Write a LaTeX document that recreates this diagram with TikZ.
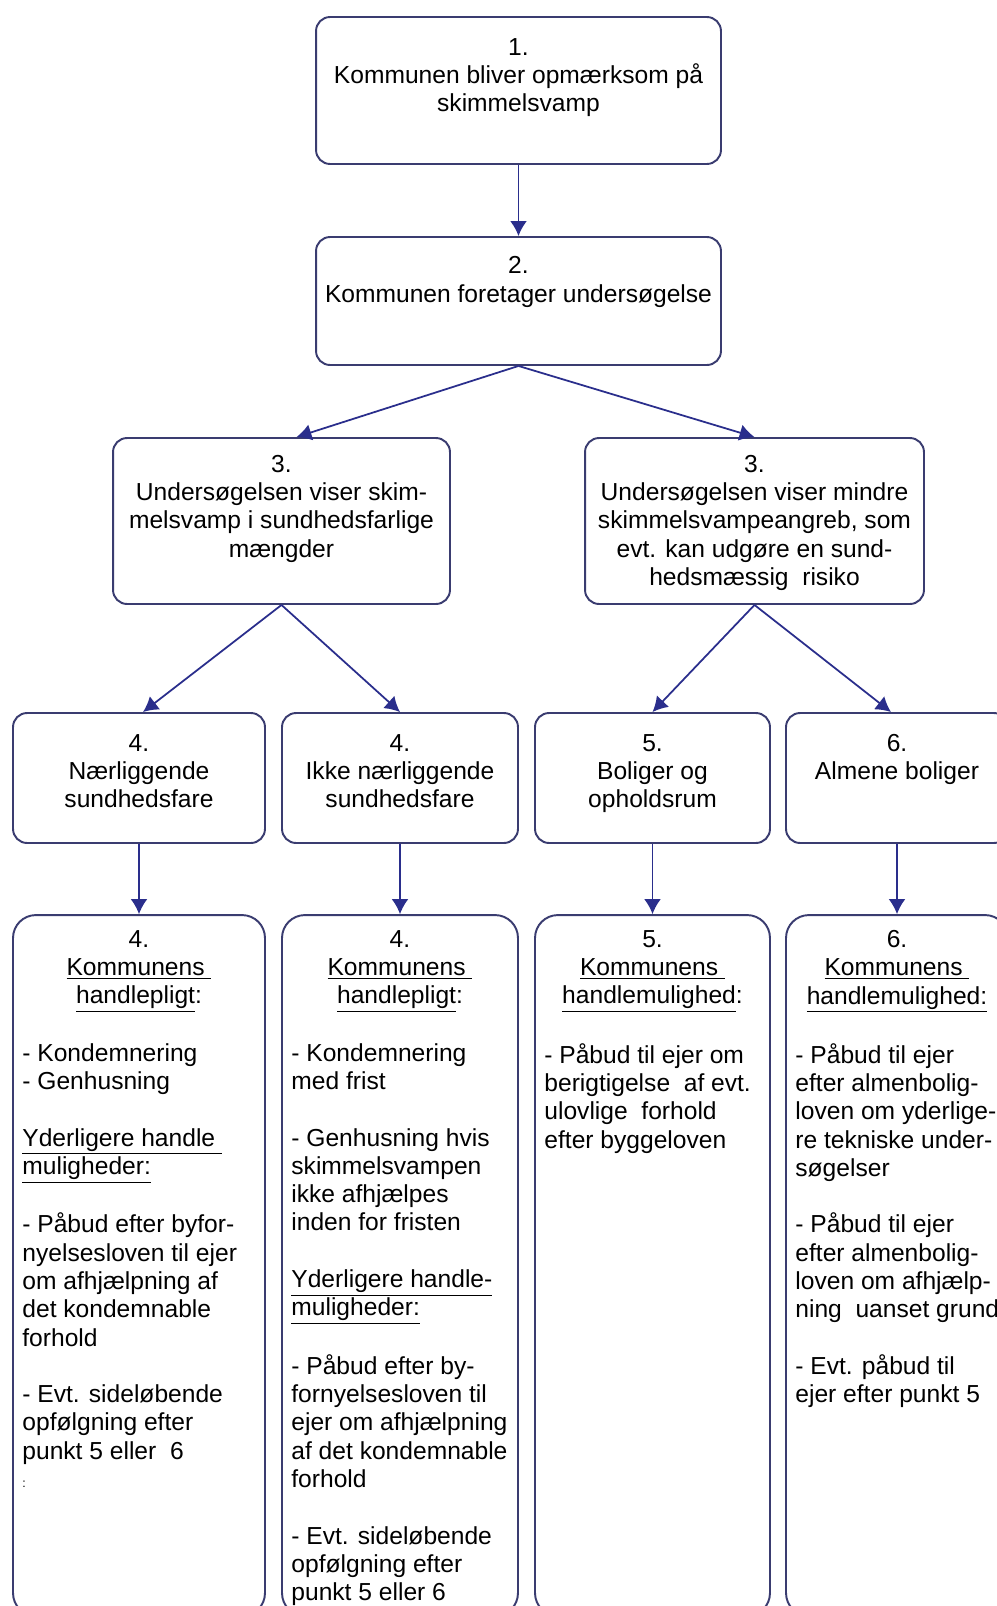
\documentclass[tikz,border=0pt]{standalone}
\usepackage{fontspec}
\setmainfont{Liberation Sans}
\usepackage{tikz}
\usetikzlibrary{positioning,arrows.meta}
\definecolor{boxblue}{RGB}{58,60,112}
\definecolor{arrowblue}{RGB}{42,46,140}
\newcommand{\uln}[1]{\underline{#1}}

\begin{document}
\begin{tikzpicture}[x=0.02cm,y=-0.02cm]
\tikzstyle{box}=[rectangle, rounded corners=8pt, draw=boxblue, line width=1.1pt, fill=white]
\tikzstyle{tall}=[box, rounded corners=13pt]
\tikzstyle{txt}=[anchor=north, align=center, inner sep=0pt, font=\fontsize{14}{16.1}\selectfont]
\tikzstyle{list}=[txt, anchor=north west, align=left]
\tikzstyle{connect}=[-{Latex[length=8.5pt,width=9.5pt]}, draw=arrowblue, line width=1pt]
\useasboundingbox[fill=white] (0,0) rectangle (997,1606);
\clip (0,0) rectangle (997,1606);
	\node[box, minimum width=8.1cm, minimum height=2.94cm] (b1) at (518.5,90.5) {};
	\node[box, minimum width=8.1cm, minimum height=2.56cm] (b2) at (518.5,301) {};
	\node[box, minimum width=6.74cm, minimum height=3.32cm] (b3l) at (281.5,521) {};
	\node[box, minimum width=6.78cm, minimum height=3.32cm] (b3r) at (754.5,521) {};
	\node[box, minimum width=5.04cm, minimum height=2.6cm] (b4a) at (139,778) {};
	\node[box, minimum width=4.72cm, minimum height=2.6cm] (b4b) at (400,778) {};
	\node[box, minimum width=4.7cm, minimum height=2.6cm] (b5) at (652.5,778) {};
	\node[box, minimum width=4.44cm, minimum height=2.6cm] (b6) at (897,778) {};
	\node[tall, minimum width=5.04cm, minimum height=14.02cm] (c4a) at (139,1265.5) {};
	\node[tall, minimum width=4.72cm, minimum height=14.02cm] (c4b) at (400,1265.5) {};
	\node[tall, minimum width=4.7cm, minimum height=14.02cm] (c5) at (652.5,1265.5) {};
	\node[tall, minimum width=4.44cm, minimum height=14.02cm] (c6) at (897,1265.5) {};

	\node[txt] (t1) at ([yshift=-12.5pt]b1.north) {1.\\Kommunen bliver opmærksom på\\skimmelsvamp};
	\node[txt] (t2) at ([yshift=-11.5pt]b2.north) {2.\\Kommunen foretager undersøgelse};
	\node[txt] (t3l) at ([yshift=-10pt]b3l.north) {3.\\Undersøgelsen viser skim-\\melsvamp i sundhedsfarlige\\mængder};
	\node[txt] (t3r) at ([yshift=-10pt]b3r.north) {3.\\Undersøgelsen viser mindre\\skimmelsvampeangreb, som\\evt. kan udgøre en sund-\\hedsmæssig\ \ risiko};
	\node[txt] (t4a) at ([yshift=-12.5pt]b4a.north) {4.\\Nærliggende\\sundhedsfare};
	\node[txt] (t4b) at ([yshift=-12.5pt]b4b.north) {4.\\Ikke nærliggende\\sundhedsfare};
	\node[txt] (t5) at ([yshift=-12.5pt]b5.north) {5.\\Boliger og\\opholdsrum};
	\node[txt] (t6) at ([yshift=-12.5pt]b6.north) {6.\\Almene boliger};

	% handlepligt / handlemulighed
	\node[txt] (h4a) at ([yshift=-9pt]c4a.north) {4.\\\uln{Kommunens\ }\\\uln{handlepligt}:};
	\node[list] (l4a) at ([xshift=0.2cm,yshift=-73.4pt]c4a.north west) {- Kondemnering\\- Genhusning\\[16.1pt]
		\uln{Yderligere handle\ }\\\uln{muligheder:}\\[16.1pt]
		- Påbud efter byfor-\\nyelsesloven til ejer\\om afhjælpning af\\det kondemnable\\forhold\\[16.1pt]
		- Evt. sideløbende\\opfølgning efter\\punkt 5 eller\ \ 6\\{\scriptsize :}};
	\node[txt] (h4b) at ([yshift=-9pt]c4b.north) {4.\\\uln{Kommunens\ }\\\uln{handlepligt}:};
	\node[list] (l4b) at ([xshift=0.2cm,yshift=-73.4pt]c4b.north west) {- Kondemnering\\med frist\\[16.1pt]
		- Genhusning hvis\\skimmelsvampen\\ikke afhjælpes\\inden for fristen\\[16.1pt]
		\uln{Yderligere handle-}\\\uln{muligheder:}\\[16.1pt]
		- Påbud efter by-\\fornyelsesloven til\\ejer om afhjælpning\\af det kondemnable\\forhold\\[16.1pt]
		- Evt. sideløbende\\opfølgning efter\\punkt 5 eller 6};
	\node[txt] (h5) at ([yshift=-9pt]c5.north) {5.\\\uln{Kommunens\ }\\\uln{handlemulighed}:};
	\node[list] (l5) at ([xshift=0.2cm,yshift=-73.4pt]c5.north west) {- Påbud til ejer om\\berigtigelse\ \ af evt.\\ulovlige\ \ forhold\\efter byggeloven};
	\node[txt] (h6) at ([yshift=-9pt]c6.north) {6.\\\uln{Kommunens\ }\\\uln{handlemulighed:}};
	\node[list] (l6) at ([xshift=0.2cm,yshift=-73.4pt]c6.north west) {- Påbud til ejer\\efter almenbolig-\\loven om yderlige-\\re tekniske under-\\søgelser\\[16.1pt]
		- Påbud til ejer\\efter almenbolig-\\loven om afhjælp-\\ning\ \ uanset grund\\[16.1pt]
		- Evt. påbud til\\ejer efter punkt 5};

	\path
		(b1) edge [connect] (b2)
		(b2.south) edge [connect] ([xshift=0.3cm]b3l.north)
		(b2.south) edge [connect] (b3r.north)
		(b3l.south) edge [connect] ([xshift=0.08cm]b4a.north)
		(b3l.south) edge [connect] (b4b.north)
		(b3r.south) edge [connect] (b5.north)
		(b3r.south) edge [connect] ([xshift=-0.12cm]b6.north)
		(b4a) edge [connect] (c4a)
		(b4b) edge [connect] (c4b)
		(b5) edge [connect] (c5)
		(b6) edge [connect] (c6);
\end{tikzpicture}
\end{document}
